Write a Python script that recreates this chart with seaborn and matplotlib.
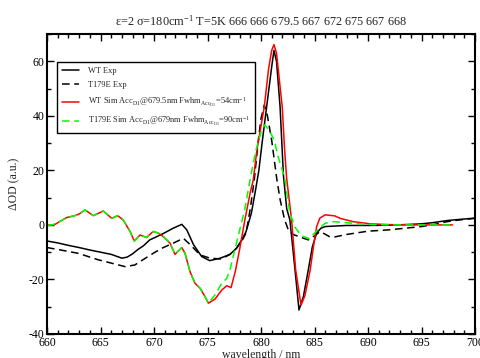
import numpy as np
import pandas as pd
import matplotlib
matplotlib.use("Agg")
import matplotlib.pyplot as plt
from matplotlib.ticker import MultipleLocator
import seaborn as sns

# ---------------- data ----------------
wt_exp_x = [660, 661, 662, 663, 664, 665, 666, 667, 667.5, 668, 668.5, 669, 669.6, 670.1, 670.9,
            671.8, 672.6, 673.06, 673.7, 674.46, 675.2, 676.2, 677.1, 677.7, 678.2, 678.6, 679.1,
            679.5, 679.8, 680.1, 680.53, 681.0, 681.21, 681.45, 681.78, 682.1, 682.4, 682.7, 683.18,
            683.55, 683.96, 684.42, 684.8, 685.2, 685.6, 686.0, 687, 688, 690, 692, 694, 695, 696,
            697.4, 698.5, 700]
wt_exp_y = [-5.9, -6.6, -7.5, -8.3, -9.2, -10.0, -10.8, -12.2, -11.8, -10.6, -9.0, -7.7, -5.5, -4.6, -3.1,
            -1.2, 0.2, -1.8, -7.3, -11.6, -13.1, -12.2, -10.8, -8.6, -5.5, -2.5, 4.3,
            13.0, 20.0, 30.0, 43.4, 58.0, 64.0, 60.0, 43.4, 18.0, 6.0, 1.8, -16.5,
            -31.2, -26.3, -16.5, -8.0, -3.0, -1.2, -0.6, -0.4, -0.2, -0.2, -0.1, 0.2, 0.4, 0.8,
            1.6, 2.0, 2.5]

t179e_exp_x = [660, 661, 662.9, 664.8, 666, 667.3, 668.2, 669.2, 670.1, 670.87, 671.8, 672.74, 673.4,
               674.3, 675.23, 676.3, 677.1, 677.7, 678.2, 678.6, 679.0, 679.37, 679.75, 680.0, 680.31,
               680.6, 681.0, 681.47, 681.8, 682.2, 682.55, 683.0, 683.7, 684.42, 685.0, 685.5, 685.9,
               686.4, 686.9, 688, 690, 692, 694, 695, 696, 697.4, 698.5, 700]
t179e_exp_y = [-8.3, -9.0, -10.4, -12.8, -14.0, -15.3, -14.7, -12.2, -10.0, -8.3, -6.7, -4.9, -7.3,
               -11.0, -12.2, -12.5, -10.8, -8.6, -6.0, -3.0, 6.0, 16.5, 31.0, 39.0, 44.0,
               40.0, 31.0, 17.0, 9.0, 2.0, -1.8, -3.5, -4.5, -5.5, -4.0, -2.5, -3.2,
               -4.3, -4.4, -3.5, -2.3, -1.8, -1.0, -0.6, 0.0, 1.2, 1.8, 2.4]

wt_sim_x = [660, 660.75, 661.3, 661.84, 662.6, 663.0, 663.55, 664.33, 665.26, 666.05, 666.6, 667.13,
            667.76, 668.16, 668.7, 669.3, 669.93, 670.4, 670.87, 671.5, 671.96, 672.6, 672.9, 673.36,
            673.83, 674.3, 674.77, 675.08, 675.7, 676.33, 676.8, 677.2, 677.6, 678.0, 678.5, 679.0,
            679.28, 679.6, 680.31, 680.7, 681.0, 681.21, 681.45, 681.99, 682.2, 682.4, 682.86, 683.24,
            683.74, 684.1, 684.6, 684.9, 685.2, 685.5, 686.0, 686.9, 687.4, 688.6, 690.2, 692, 694,
            696, 697.9]
wt_sim_y = [-0.2, 0.2, 1.5, 2.7, 3.4, 4.0, 5.5, 3.4, 5.1, 2.4, 3.4, 1.8,
            -2.4, -5.9, -3.7, -4.6, -2.4, -3.0, -4.3, -6.7, -10.8, -8.3, -10.4, -17.1,
            -21.4, -23.2, -26.3, -28.7, -27.2, -23.9, -22.3, -23.0, -17.0, -9.0, 2.0, 12.0,
            16.5, 27.0, 43.4, 57.0, 64.0, 66.1, 63.0, 43.0, 28.0, 17.0, 1.8, -16.5,
            -29.4, -26.0, -16.5, -8.0, -0.6, 2.5, 3.7, 3.3, 2.4, 1.2, 0.4, 0.1, 0.0,
            0.0, 0.0]

t179e_sim_x = [660, 660.75, 661.3, 661.84, 662.6, 663.0, 663.55, 664.33, 665.26, 666.05, 666.6, 667.13,
               667.76, 668.16, 668.7, 669.3, 669.93, 670.4, 670.87, 671.5, 671.96, 672.6, 672.9, 673.36,
               673.83, 674.3, 674.77, 675.08, 675.7, 676.33, 676.8, 677.1, 677.5, 678.0, 678.5, 679.0,
               679.5, 680.0, 680.35, 680.8, 681.24, 681.6, 682.0, 682.24, 682.7, 683.2, 683.8, 684.5,
               685.0, 685.5, 686.0, 686.8, 688.6, 690, 692, 694, 696, 697.9]
t179e_sim_y = [-0.2, 0.2, 1.5, 2.7, 3.4, 4.0, 5.5, 3.4, 5.1, 2.4, 3.4, 1.8,
               -2.4, -5.9, -3.7, -4.6, -2.4, -3.0, -4.3, -6.7, -10.8, -8.3, -10.4, -17.1,
               -21.4, -23.2, -26.3, -28.7, -25.7, -21.4, -19.6, -16.5, -10.0, -2.0, 6.0, 17.0,
               27.0, 34.0, 36.7, 34.5, 31.0, 25.0, 20.0, 16.5, 4.3, -1.0, -4.0, -5.0,
               -3.0, -1.0, 0.6, 1.2, 0.6, 0.2, 0.0, 0.0, 0.0, 0.0]

labels = ["WT Exp",
          "T179E Exp",
          r"WT Sim Acc$_{\mathrm{D1}}$@679.5nm Fwhm$_{\mathrm{Acc}_{\mathrm{D1}}}$=54cm$^{-1}$",
          r"T179E Sim Acc$_{\mathrm{D1}}$@679nm Fwhm$_{\mathrm{Acc}_{\mathrm{D1}}}$=90cm$^{-1}$"]
title = r"ε=2 σ=180cm$^{-1}$ T=5K 666 666 679.5 667 672 675 667 668"
xticks = [660, 665, 670, 675, 680, 685, 690, 695, 700]
yticks = [-40, -20, 0, 20, 40, 60]

# ---------------- style ----------------
sns.set_style("ticks")
plt.rcParams["font.family"] = ["Liberation Serif", "DejaVu Serif"]
plt.rcParams["mathtext.fontset"] = "custom"
plt.rcParams["mathtext.rm"] = "Liberation Serif"
plt.rcParams["mathtext.it"] = "Liberation Serif:italic"
plt.rcParams["mathtext.bf"] = "Liberation Serif:bold"
plt.rcParams["axes.unicode_minus"] = False

fig = plt.figure(figsize=(4.8, 3.58), dpi=100)
ax = fig.add_axes([47 / 480, 24 / 358, 428 / 480, 300 / 358])

series = [
    (wt_exp_x, wt_exp_y, "black", "-"),
    (t179e_exp_x, t179e_exp_y, "black", (0, (5, 3))),
    (wt_sim_x, wt_sim_y, "#ff0000", "-"),
    (t179e_sim_x, t179e_sim_y, "#00ff00", (0, (5, 3))),
]
for (xs, ys, col, ls), lab in zip(series, labels):
    df = pd.DataFrame({"wavelength": xs, "dOD": ys})
    sns.lineplot(data=df, x="wavelength", y="dOD", ax=ax, color=col, linestyle=ls,
                 linewidth=1.1, label=lab, sort=False, estimator=None)

ax.set_xlim(660, 700)
ax.set_ylim(-40, 70)
ax.set_xticks(xticks)
ax.set_yticks(yticks)
ax.xaxis.set_minor_locator(MultipleLocator(1))
ax.yaxis.set_minor_locator(MultipleLocator(10))
ax.tick_params(which="both", direction="in", top=True, right=True, labelsize=8.5, pad=2,
               width=1.0, color="black", labelcolor="black")
ax.tick_params(which="major", length=5)
ax.tick_params(which="minor", length=3)
for sp in ax.spines.values():
    sp.set_linewidth(1.5)
    sp.set_color("black")

ax.set_xlabel("wavelength / nm", fontsize=8.5, labelpad=0)
ax.set_ylabel("ΔOD (a.u.)", fontsize=8.5, labelpad=6)
ax.set_title(title, fontsize=8.8, pad=6)

leg = ax.legend(loc="upper left", bbox_to_anchor=(10 / 428, (334 - 62) / 300), fontsize=6.0,
                frameon=True, fancybox=False, edgecolor="black", framealpha=1,
                borderaxespad=0, handlelength=2.0, handletextpad=1.1, labelspacing=0.75,
                borderpad=0.6)
leg.get_frame().set_linewidth(1.0)

fig.savefig("out.png", dpi=100)
